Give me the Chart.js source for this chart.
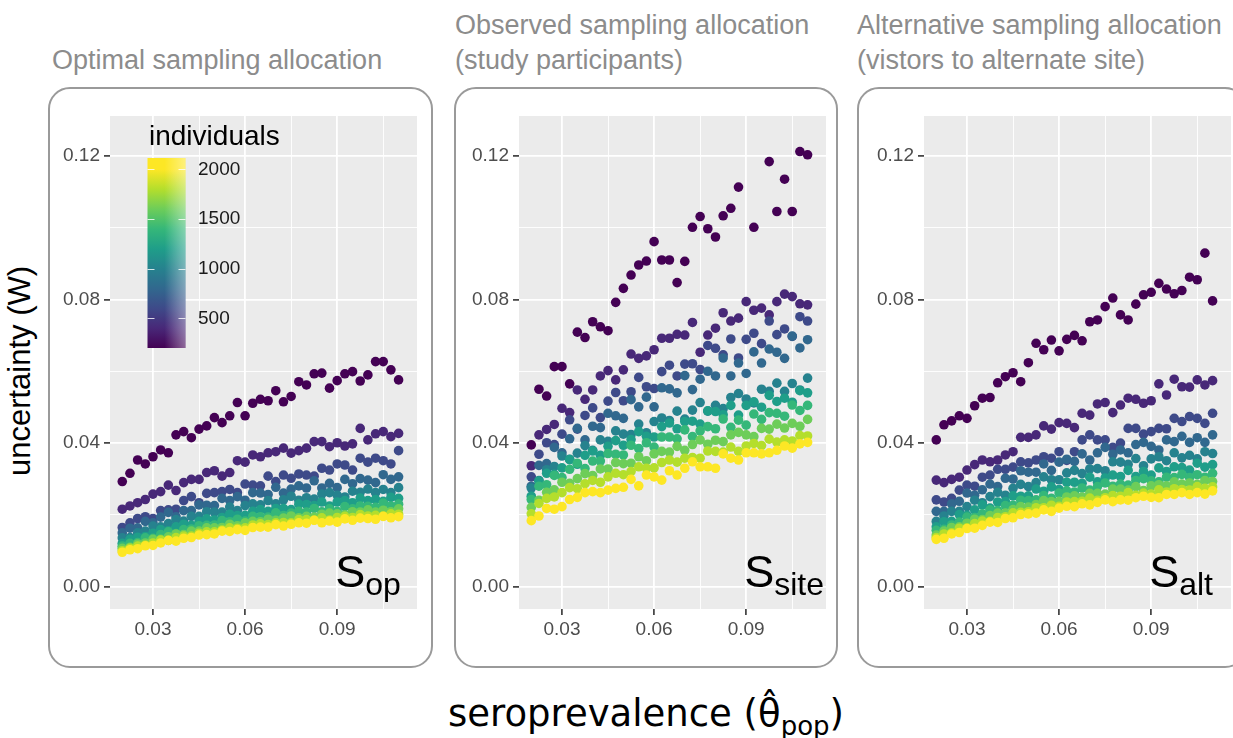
<!DOCTYPE html>
<html>
<head>
<meta charset="utf-8">
<script src="https://cdn.jsdelivr.net/npm/chart.js@4/dist/chart.umd.min.js"></script>
<style>
  body { margin: 0; width: 1233px; height: 738px; overflow: hidden; background: #fff; position: relative;
         font-family: 'Liberation Sans', Arial, sans-serif; }
  .box { position: absolute; top: 87px; height: 581px; border: 2px solid #9a9a9a; border-radius: 22px; box-sizing: border-box; }
  .title { position: absolute; color: #8c8c8c; font-size: 27px; line-height: 35px; white-space: nowrap; }
  canvas { position: absolute; top: 100px; }
  #ytitle { position: absolute; left: 20px; top: 371px; transform: translate(-50%, -50%) rotate(-90deg);
            font-size: 31px; color: #000; white-space: nowrap; }
  #xtitle { position: absolute; left: 646px; top: 716px; transform: translate(-50%, -50%);
            font-family: 'DejaVu Sans', sans-serif; font-size: 37px; color: #000; white-space: nowrap; }
  #xtitle sub { font-size: 26px; vertical-align: -9px; }
</style>
</head>
<body>
<div class="box" style="left:48px;width:385px"></div>
<div class="box" style="left:454px;width:384px"></div>
<div class="box" style="left:857px;width:390px"></div>
<div class="title" style="left:52px;top:43px">Optimal sampling allocation</div>
<div class="title" style="left:455px;top:8px">Observed sampling allocation<br>(study participants)</div>
<div class="title" style="left:857px;top:8px">Alternative sampling allocation<br>(vistors to alternate site)</div>
<canvas id="c1" width="380" height="545" style="left:50px"></canvas>
<canvas id="c2" width="380" height="545" style="left:459px"></canvas>
<canvas id="c3" width="380" height="545" style="left:864px"></canvas>
<div id="ytitle">uncertainty (W)</div>
<div id="xtitle">seroprevalence (θ̂<sub>pop</sub>)</div>
<script>
// seroprevalence values (x)
const xValues = [0.0200,0.0225,0.0250,0.0275,0.0300,0.0325,0.0350,0.0375,0.0400,0.0425,0.0450,0.0475,0.0500,0.0525,0.0550,0.0575,0.0600,0.0625,0.0650,0.0675,0.0700,0.0725,0.0750,0.0775,0.0800,0.0825,0.0850,0.0875,0.0900,0.0925,0.0950,0.0975,0.1000,0.1025,0.1050,0.1075,0.1100];

const levels = [200, 400, 600, 800, 1000, 1200, 1400, 1600, 1800, 2000];
const colors = ['#440154','#482878','#3E4A89','#31688E','#26828E','#1F9E89','#35B779','#6DCD59','#B4DE2C','#FDE725'];

const xMajor = [0.03, 0.06, 0.09];
const xMinor = [0.045, 0.075, 0.105];
const yMajor = [0.00, 0.04, 0.08, 0.12];
const yMinor = [0.02, 0.06, 0.10];
const legendTicks = [500, 1000, 1500, 2000];
const panelLabels = ['op', 'site', 'alt'];

// optimal allocation
const sop200 = [0.0293,0.0316,0.0353,0.0342,0.0362,0.0381,0.0373,0.0423,0.0432,0.0415,0.0439,0.0448,0.0471,0.0457,0.0476,0.0513,0.0476,0.0511,0.0522,0.0518,0.0546,0.0515,0.0530,0.0571,0.0562,0.0593,0.0595,0.0553,0.0574,0.0593,0.0599,0.0573,0.0590,0.0627,0.0627,0.0604,0.0576];
const sop400 = [0.0216,0.0225,0.0234,0.0243,0.0258,0.0265,0.0283,0.0268,0.0290,0.0299,0.0299,0.0318,0.0323,0.0308,0.0318,0.0351,0.0347,0.0367,0.0362,0.0373,0.0376,0.0386,0.0372,0.0379,0.0386,0.0404,0.0404,0.0390,0.0401,0.0392,0.0398,0.0441,0.0409,0.0426,0.0432,0.0418,0.0427];
const sop600 = [0.0165,0.0178,0.0190,0.0195,0.0190,0.0212,0.0214,0.0216,0.0240,0.0251,0.0234,0.0260,0.0262,0.0265,0.0271,0.0262,0.0286,0.0283,0.0281,0.0308,0.0293,0.0311,0.0302,0.0314,0.0311,0.0308,0.0330,0.0325,0.0342,0.0339,0.0325,0.0358,0.0347,0.0358,0.0351,0.0342,0.0379];
const sop800 = [0.0150,0.0163,0.0164,0.0182,0.0178,0.0194,0.0207,0.0195,0.0212,0.0212,0.0228,0.0227,0.0226,0.0246,0.0240,0.0251,0.0241,0.0262,0.0261,0.0257,0.0277,0.0261,0.0272,0.0281,0.0275,0.0295,0.0275,0.0288,0.0276,0.0299,0.0287,0.0301,0.0297,0.0290,0.0312,0.0299,0.0306];
const sop1000 = [0.0136,0.0137,0.0150,0.0155,0.0169,0.0167,0.0176,0.0187,0.0183,0.0196,0.0196,0.0209,0.0208,0.0208,0.0222,0.0212,0.0226,0.0231,0.0228,0.0240,0.0231,0.0242,0.0252,0.0241,0.0248,0.0244,0.0258,0.0262,0.0255,0.0250,0.0266,0.0263,0.0272,0.0262,0.0271,0.0262,0.0276];
const sop1200 = [0.0121,0.0132,0.0138,0.0140,0.0149,0.0159,0.0156,0.0167,0.0174,0.0171,0.0182,0.0189,0.0186,0.0193,0.0202,0.0198,0.0199,0.0210,0.0215,0.0210,0.0218,0.0218,0.0215,0.0230,0.0229,0.0226,0.0236,0.0225,0.0236,0.0240,0.0234,0.0247,0.0240,0.0243,0.0238,0.0249,0.0246];
const sop1400 = [0.0113,0.0121,0.0123,0.0136,0.0135,0.0145,0.0153,0.0148,0.0159,0.0161,0.0170,0.0171,0.0172,0.0184,0.0181,0.0188,0.0183,0.0196,0.0195,0.0194,0.0206,0.0198,0.0205,0.0210,0.0208,0.0218,0.0209,0.0217,0.0210,0.0223,0.0217,0.0225,0.0224,0.0221,0.0233,0.0225,0.0230];
const sop1600 = [0.0107,0.0110,0.0119,0.0122,0.0132,0.0132,0.0139,0.0147,0.0145,0.0155,0.0155,0.0164,0.0164,0.0165,0.0174,0.0170,0.0178,0.0182,0.0181,0.0188,0.0185,0.0191,0.0197,0.0192,0.0196,0.0194,0.0202,0.0205,0.0203,0.0200,0.0209,0.0208,0.0214,0.0208,0.0213,0.0209,0.0217];
const sop1800 = [0.0100,0.0107,0.0113,0.0116,0.0122,0.0130,0.0129,0.0137,0.0141,0.0141,0.0149,0.0153,0.0153,0.0158,0.0164,0.0163,0.0164,0.0172,0.0175,0.0173,0.0178,0.0179,0.0178,0.0187,0.0187,0.0186,0.0192,0.0186,0.0193,0.0196,0.0193,0.0201,0.0197,0.0199,0.0197,0.0203,0.0202];
const sop2000 = [0.0096,0.0103,0.0106,0.0114,0.0115,0.0122,0.0129,0.0127,0.0135,0.0137,0.0144,0.0145,0.0147,0.0155,0.0154,0.0159,0.0157,0.0165,0.0166,0.0166,0.0173,0.0169,0.0174,0.0178,0.0177,0.0185,0.0178,0.0183,0.0180,0.0189,0.0185,0.0191,0.0190,0.0188,0.0196,0.0192,0.0195];

// observed allocation (study participants)
const ssite200 = [0.0395,0.0550,0.0531,0.0613,0.0613,0.0565,0.0709,0.0694,0.0738,0.0724,0.0713,0.0792,0.0831,0.0868,0.0896,0.0907,0.0961,0.0910,0.0910,0.0847,0.0906,0.1001,0.1031,0.0997,0.0974,0.1033,0.1054,0.1113,null,0.1001,null,0.1184,0.1045,0.1135,0.1045,0.1212,0.1203];
const ssite400 = [0.0337,0.0423,0.0438,0.0452,0.0497,0.0485,0.0548,0.0522,0.0548,0.0587,0.0602,0.0576,0.0604,0.0648,0.0636,0.0643,0.0660,0.0692,0.0692,0.0703,0.0701,0.0736,0.0653,0.0701,0.0720,0.0763,0.0740,0.0748,0.0794,0.0770,0.0776,0.0757,0.0794,0.0815,0.0808,0.0788,0.0785];
const ssite600 = [0.0306,0.0369,0.0401,0.0396,0.0425,0.0465,0.0439,0.0477,0.0498,0.0471,0.0517,0.0541,0.0518,0.0543,0.0583,0.0557,0.0552,0.0599,0.0617,0.0587,0.0620,0.0621,0.0605,0.0672,0.0664,0.0646,0.0690,0.0637,0.0689,0.0706,0.0677,0.0740,0.0702,0.0718,0.0697,0.0752,0.0740];
const ssite800 = [0.0280,0.0338,0.0343,0.0388,0.0373,0.0412,0.0441,0.0409,0.0447,0.0443,0.0483,0.0476,0.0469,0.0521,0.0501,0.0528,0.0501,0.0554,0.0551,0.0540,0.0588,0.0549,0.0578,0.0600,0.0587,0.0637,0.0587,0.0623,0.0594,0.0654,0.0623,0.0662,0.0653,0.0636,0.0698,0.0665,0.0688];
const ssite1000 = [0.0275,0.0296,0.0326,0.0335,0.0364,0.0355,0.0372,0.0393,0.0380,0.0409,0.0405,0.0434,0.0425,0.0424,0.0453,0.0429,0.0460,0.0470,0.0463,0.0489,0.0467,0.0492,0.0513,0.0489,0.0505,0.0496,0.0527,0.0538,0.0523,0.0512,0.0550,0.0544,0.0567,0.0544,0.0566,0.0548,0.0581];
const ssite1200 = [0.0252,0.0294,0.0316,0.0313,0.0331,0.0354,0.0341,0.0366,0.0378,0.0366,0.0391,0.0407,0.0394,0.0410,0.0432,0.0419,0.0417,0.0446,0.0456,0.0440,0.0460,0.0461,0.0453,0.0490,0.0488,0.0479,0.0505,0.0478,0.0505,0.0515,0.0500,0.0533,0.0516,0.0525,0.0514,0.0546,0.0540];
const ssite1400 = [0.0243,0.0280,0.0284,0.0310,0.0304,0.0327,0.0344,0.0329,0.0350,0.0350,0.0371,0.0369,0.0367,0.0394,0.0385,0.0401,0.0389,0.0417,0.0417,0.0412,0.0437,0.0418,0.0434,0.0446,0.0440,0.0467,0.0444,0.0464,0.0450,0.0481,0.0466,0.0485,0.0483,0.0475,0.0506,0.0491,0.0505];
const ssite1600 = [0.0221,0.0241,0.0263,0.0270,0.0291,0.0288,0.0301,0.0315,0.0310,0.0328,0.0328,0.0346,0.0343,0.0344,0.0362,0.0351,0.0370,0.0377,0.0375,0.0391,0.0380,0.0396,0.0409,0.0397,0.0408,0.0404,0.0423,0.0430,0.0423,0.0418,0.0441,0.0439,0.0453,0.0442,0.0455,0.0447,0.0466];
const ssite1800 = [0.0203,0.0232,0.0246,0.0250,0.0262,0.0276,0.0273,0.0287,0.0296,0.0291,0.0306,0.0316,0.0312,0.0321,0.0334,0.0330,0.0331,0.0346,0.0353,0.0347,0.0358,0.0360,0.0358,0.0378,0.0377,0.0375,0.0389,0.0377,0.0392,0.0399,0.0393,0.0411,0.0403,0.0409,0.0406,0.0421,0.0420];
const ssite2000 = [0.0184,0.0197,0.0218,0.0216,0.0223,0.0243,0.0249,0.0262,0.0265,0.0262,0.0269,0.0274,0.0277,0.0299,0.0281,0.0311,0.0306,0.0297,0.0323,0.0311,0.0330,0.0348,0.0334,0.0334,0.0330,0.0370,0.0358,0.0353,0.0373,0.0373,0.0370,0.0373,0.0380,0.0392,0.0386,0.0398,0.0402];

// alternative allocation (visitors to alternate site)
const salt200 = [0.0409,0.0451,0.0462,0.0476,0.0469,0.0504,0.0525,0.0527,0.0568,0.0585,0.0596,0.0571,0.0624,0.0678,0.0660,0.0687,0.0657,0.0689,0.0700,0.0685,0.0738,0.0743,0.0780,0.0804,0.0757,0.0743,0.0787,0.0813,0.0820,0.0845,0.0829,0.0816,0.0825,0.0862,0.0855,0.0929,0.0796];
const salt400 = [0.0297,0.0290,0.0299,0.0305,0.0325,0.0340,0.0353,0.0348,0.0353,0.0367,0.0376,0.0416,0.0416,0.0423,0.0448,0.0439,0.0457,0.0455,0.0443,0.0483,0.0478,0.0509,0.0513,0.0485,0.0506,0.0525,0.0522,0.0511,0.0518,0.0565,0.0534,0.0578,0.0557,0.0556,0.0576,0.0562,0.0574];
const salt600 = [0.0242,0.0236,0.0246,0.0269,0.0283,0.0280,0.0305,0.0311,0.0327,0.0327,0.0333,0.0348,0.0345,0.0353,0.0362,0.0358,0.0376,0.0352,0.0376,0.0409,0.0423,0.0409,0.0409,0.0388,0.0400,0.0441,0.0441,0.0425,0.0432,0.0441,0.0440,0.0469,0.0460,0.0474,0.0469,0.0455,0.0483];
const salt800 = [0.0210,0.0210,0.0231,0.0238,0.0261,0.0255,0.0270,0.0286,0.0279,0.0302,0.0300,0.0323,0.0319,0.0319,0.0342,0.0324,0.0347,0.0355,0.0349,0.0370,0.0353,0.0373,0.0388,0.0369,0.0381,0.0373,0.0396,0.0402,0.0391,0.0381,0.0409,0.0404,0.0419,0.0402,0.0415,0.0402,0.0423];
const salt1000 = [0.0182,0.0197,0.0210,0.0210,0.0223,0.0241,0.0234,0.0251,0.0263,0.0255,0.0274,0.0285,0.0279,0.0290,0.0306,0.0298,0.0298,0.0317,0.0324,0.0315,0.0328,0.0329,0.0323,0.0348,0.0347,0.0341,0.0357,0.0337,0.0356,0.0362,0.0351,0.0373,0.0359,0.0366,0.0356,0.0376,0.0371];
const salt1200 = [0.0167,0.0181,0.0182,0.0201,0.0199,0.0214,0.0228,0.0219,0.0236,0.0237,0.0253,0.0252,0.0253,0.0272,0.0266,0.0278,0.0271,0.0291,0.0291,0.0288,0.0305,0.0292,0.0303,0.0311,0.0307,0.0324,0.0307,0.0321,0.0311,0.0331,0.0321,0.0334,0.0332,0.0325,0.0344,0.0333,0.0340];
const salt1400 = [0.0157,0.0160,0.0172,0.0180,0.0194,0.0193,0.0203,0.0214,0.0212,0.0226,0.0227,0.0241,0.0240,0.0242,0.0254,0.0246,0.0261,0.0267,0.0264,0.0275,0.0269,0.0279,0.0289,0.0280,0.0286,0.0283,0.0296,0.0301,0.0295,0.0292,0.0305,0.0304,0.0313,0.0304,0.0312,0.0305,0.0316];
const salt1600 = [0.0144,0.0155,0.0165,0.0167,0.0177,0.0188,0.0187,0.0198,0.0205,0.0205,0.0215,0.0223,0.0222,0.0229,0.0240,0.0237,0.0238,0.0250,0.0253,0.0250,0.0260,0.0260,0.0258,0.0272,0.0272,0.0269,0.0279,0.0268,0.0281,0.0284,0.0281,0.0292,0.0286,0.0289,0.0285,0.0296,0.0293];
const salt1800 = [0.0137,0.0147,0.0150,0.0163,0.0164,0.0176,0.0183,0.0182,0.0193,0.0195,0.0206,0.0207,0.0209,0.0220,0.0220,0.0227,0.0224,0.0236,0.0237,0.0238,0.0247,0.0241,0.0248,0.0254,0.0252,0.0262,0.0255,0.0261,0.0258,0.0270,0.0264,0.0273,0.0271,0.0269,0.0279,0.0274,0.0278];
const salt2000 = [0.0132,0.0135,0.0147,0.0151,0.0162,0.0163,0.0171,0.0180,0.0179,0.0190,0.0192,0.0201,0.0203,0.0205,0.0214,0.0210,0.0219,0.0224,0.0223,0.0231,0.0228,0.0235,0.0242,0.0237,0.0242,0.0241,0.0248,0.0252,0.0249,0.0248,0.0257,0.0257,0.0262,0.0257,0.0262,0.0258,0.0267];

const panelSeries = [
  [sop200, sop400, sop600, sop800, sop1000, sop1200, sop1400, sop1600, sop1800, sop2000],
  [ssite200, ssite400, ssite600, ssite800, ssite1000, ssite1200, ssite1400, ssite1600, ssite1800, ssite2000],
  [salt200, salt400, salt600, salt800, salt1000, salt1200, salt1400, salt1600, salt1800, salt2000]
];

Chart.defaults.font.family = "'Liberation Sans', Arial, sans-serif";

const near = (list, v) => list.some(m => Math.abs(m - v) < 1e-9);

// grey panel background
const panelBg = {
  id: 'panelBg',
  beforeDraw(chart) {
    const a = chart.chartArea, ctx = chart.ctx;
    ctx.save();
    ctx.fillStyle = '#EBEBEB';
    ctx.fillRect(a.left, a.top, a.right - a.left, a.bottom - a.top);
    ctx.restore();
  }
};

// "S_xx" label in the lower right of each panel
const panelTag = {
  id: 'panelTag',
  afterDatasetsDraw(chart, args, opts) {
    const ctx = chart.ctx;
    const x = chart.scales.x.getPixelForValue(0.09) - 2;
    const y = chart.scales.y.getPixelForValue(0);
    ctx.save();
    ctx.fillStyle = '#000';
    ctx.textBaseline = 'alphabetic';
    ctx.font = "45px 'Liberation Sans', Arial, sans-serif";
    ctx.fillText('S', x, y);
    const w = ctx.measureText('S').width;
    ctx.font = "32px 'Liberation Sans', Arial, sans-serif";
    ctx.fillText(opts.sub, x + w, y + 8);
    ctx.restore();
  }
};

// colour bar legend, first panel only
const colorBar = {
  id: 'colorBar',
  afterDraw(chart, args, opts) {
    if (!opts.show) return;
    const ctx = chart.ctx;
    const left = 97.5, top = 58, w = 38, h = 190;
    const yOf = v => 69.3 + (2000 - v) * 0.09933;
    ctx.save();
    const g = ctx.createLinearGradient(0, yOf(200), 0, yOf(2000));
    colors.forEach((c, i) => g.addColorStop(i / (colors.length - 1), c));
    ctx.fillStyle = g;
    ctx.fillRect(left, top, w, h);
    const wg = ctx.createLinearGradient(left + w * 0.45, 0, left + w, 0);
    wg.addColorStop(0, 'rgba(255,255,255,0)');
    wg.addColorStop(1, 'rgba(255,255,255,0.4)');
    ctx.fillStyle = wg;
    ctx.fillRect(left, top, w, h);
    ctx.strokeStyle = 'rgba(255,255,255,0.8)';
    ctx.lineWidth = 1;
    ctx.fillStyle = '#1a1a1a';
    ctx.font = "19px 'Liberation Sans', Arial, sans-serif";
    ctx.textBaseline = 'middle';
    legendTicks.forEach(v => {
      const y = Math.round(yOf(v)) + 0.5;
      ctx.beginPath();
      ctx.moveTo(left, y); ctx.lineTo(left + 7, y);
      ctx.moveTo(left + w - 7, y); ctx.lineTo(left + w, y);
      ctx.stroke();
      ctx.fillText(String(v), 148, yOf(v));
    });
    ctx.font = "28px 'Liberation Sans', Arial, sans-serif";
    ctx.fillStyle = '#000';
    ctx.fillText('individuals', 99, 37);
    ctx.restore();
  }
};

function makeChart(id, series, sub, showLegend) {
  // yellow (largest n) first so it sits on top
  const datasets = series.map((vals, k) => ({
    label: String(levels[k]),
    data: xValues.map((x, i) => ({ x: x, y: vals[i] })).filter(p => p.y !== null),
    backgroundColor: colors[k],
    borderWidth: 0,
    pointRadius: 4.8,
    pointHoverRadius: 4.8
  })).reverse();

  const gridCommon = {
    color: '#ffffff',
    tickLength: 6,
    tickColor: '#333333'
  };

  new Chart(document.getElementById(id).getContext('2d'), {
    type: 'scatter',
    data: { datasets: datasets },
    options: {
      responsive: false,
      animation: false,
      devicePixelRatio: 1,
      layout: { padding: { left: 0, right: 13, top: 16, bottom: 0 } },
      plugins: {
        legend: { display: false },
        tooltip: { enabled: false },
        panelTag: { sub: sub },
        colorBar: { show: showLegend }
      },
      scales: {
        x: {
          type: 'linear',
          min: 0.016,
          max: 0.116,
          afterBuildTicks: s => { s.ticks = xMajor.concat(xMinor).sort((a, b) => a - b).map(v => ({ value: v })); },
          afterFit: s => { s.height = 36; },
          border: { display: false },
          grid: Object.assign({}, gridCommon, {
            lineWidth: c => near(xMajor, c.tick.value) ? 1.8 : 0.9,
            tickWidth: c => near(xMajor, c.tick.value) ? 1.6 : 0,
            tickColor: c => near(xMajor, c.tick.value) ? '#333333' : 'rgba(0,0,0,0)'
          }),
          ticks: {
            autoSkip: false, maxRotation: 0, padding: 3,
            color: '#4D4D4D', font: { size: 19 },
            callback: v => near(xMajor, v) ? v.toFixed(2) : ''
          }
        },
        y: {
          type: 'linear',
          min: -0.0062,
          max: 0.1311,
          afterBuildTicks: s => { s.ticks = yMajor.concat(yMinor).sort((a, b) => a - b).map(v => ({ value: v })); },
          afterFit: s => { s.width = 60; },
          border: { display: false },
          grid: Object.assign({}, gridCommon, {
            lineWidth: c => near(yMajor, c.tick.value) ? 1.8 : 0.9,
            tickWidth: c => near(yMajor, c.tick.value) ? 1.6 : 0,
            tickColor: c => near(yMajor, c.tick.value) ? '#333333' : 'rgba(0,0,0,0)'
          }),
          ticks: {
            autoSkip: false, padding: 4,
            color: '#4D4D4D', font: { size: 19 },
            callback: v => near(yMajor, v) ? v.toFixed(2) : ''
          }
        }
      }
    },
    plugins: [panelBg, panelTag, colorBar]
  });
}

makeChart('c1', panelSeries[0], panelLabels[0], true);
makeChart('c2', panelSeries[1], panelLabels[1], false);
makeChart('c3', panelSeries[2], panelLabels[2], false);
</script>
</body>
</html>
